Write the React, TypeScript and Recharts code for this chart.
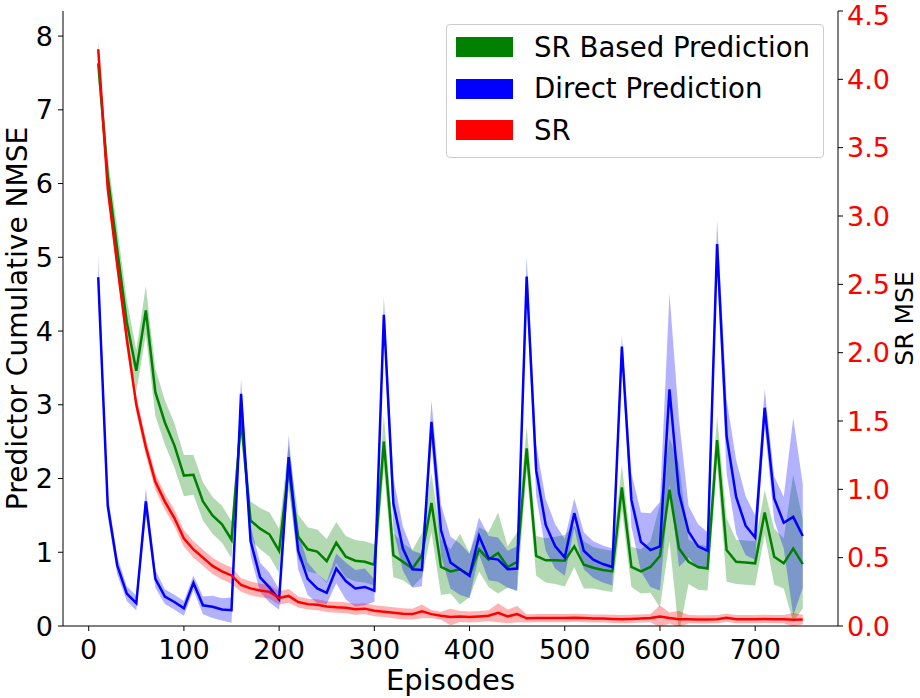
import {
  ComposedChart,
  Line,
  Area,
  XAxis,
  YAxis,
  Legend,
} from "recharts";

const episodes = [
  10, 20, 30, 40, 50, 60, 70, 80, 90, 100,
  110, 120, 130, 140, 150, 160, 170, 180, 190, 200,
  210, 220, 230, 240, 250, 260, 270, 280, 290, 300,
  310, 320, 330, 340, 350, 360, 370, 380, 390, 400,
  410, 420, 430, 440, 450, 460, 470, 480, 490, 500,
  510, 520, 530, 540, 550, 560, 570, 580, 590, 600,
  610, 620, 630, 640, 650, 660, 670, 680, 690, 700,
  710, 720, 730, 740, 750,
];

// SR based prediction (left axis)
const srBased = [
  7.63, 6.1, 5.1, 4.12, 3.46, 4.28, 3.17, 2.76, 2.45, 2.04,
  2.05, 1.69, 1.5, 1.38, 1.17, 2.8, 1.43, 1.32, 1.24, 1.02,
  2.15, 1.21, 1.04, 1.01, 0.88, 1.13, 0.94, 0.885, 0.87, 0.83,
  2.5, 0.96, 0.87, 0.78, 0.96, 1.67, 0.8, 0.74, 0.77, 0.69,
  1.04, 0.9, 0.99, 0.8, 0.87, 2.41, 0.95, 0.89, 0.89, 0.885,
  1.08, 0.83, 0.79, 0.76, 0.74, 1.88, 0.8, 0.74, 0.8, 0.95,
  1.85, 1.05, 0.87, 0.8, 0.78, 2.52, 1.03, 0.87, 0.86, 0.85,
  1.54, 0.94, 0.85, 1.05, 0.84,
];
const srBasedSpread = [
  0.2, 0.25, 0.3, 0.3, 0.28, 0.33, 0.32, 0.3, 0.3, 0.28,
  0.27, 0.26, 0.25, 0.25, 0.25, 0.2, 0.26, 0.28, 0.3, 0.3,
  0.3, 0.3, 0.3, 0.3, 0.3, 0.28, 0.28, 0.28, 0.28, 0.28,
  0.36, 0.3, 0.25, 0.25, 0.3, 0.4, 0.38, 0.3, 0.48, 0.3,
  0.3, 0.37, 0.55, 0.28, 0.4, 0.3, 0.27, 0.3, 0.32, 0.35,
  0.28, 0.32, 0.28, 0.28, 0.28, 0.3, 0.27, 0.3, 0.35, 0.7,
  0.7, 1.15, 0.3, 0.31, 0.3, 0.32, 0.43, 0.3, 0.3, 0.3,
  0.3, 0.38, 0.34, 1.0, 0.6,
];

// Direct prediction (left axis)
const direct = [
  4.73, 1.63, 0.82, 0.44, 0.31, 1.69, 0.64, 0.4, 0.325, 0.24,
  0.585, 0.28, 0.26, 0.225, 0.215, 3.15, 1.155, 0.66, 0.52, 0.36,
  2.29, 1.02, 0.64, 0.51, 0.45, 0.78, 0.61, 0.51, 0.53, 0.48,
  4.22, 1.66, 1.05, 0.77, 0.76, 2.77, 1.3, 0.86, 0.77, 0.68,
  1.22, 0.92, 0.9, 0.77, 0.78, 4.74, 2.11, 1.37, 1.08, 0.93,
  1.53, 1.02, 0.9, 0.84, 0.8, 3.79, 1.71, 1.14, 1.03, 1.08,
  3.21, 1.8, 1.28, 1.08, 1.02, 5.18, 2.57, 1.75, 1.36, 1.2,
  2.96, 1.73, 1.4, 1.48, 1.22,
];
const directSpread = [
  0.3, 0.15, 0.12, 0.1, 0.1, 0.18, 0.12, 0.1, 0.1, 0.1,
  0.1, 0.12, 0.15, 0.15, 0.17, 0.2, 0.2, 0.2, 0.2, 0.14,
  0.3, 0.25, 0.22, 0.2, 0.15, 0.2, 0.25, 0.25, 0.25, 0.15,
  0.25, 0.35, 0.3, 0.25, 0.22, 0.29, 0.35, 0.35, 0.35, 0.3,
  0.25, 0.3, 0.3, 0.25, 0.3, 0.27, 0.35, 0.35, 0.3, 0.25,
  0.2, 0.25, 0.25, 0.25, 0.25, 0.15, 0.36, 0.4, 0.5, 0.6,
  1.3, 1.0, 0.35, 0.3, 0.25, 0.33, 0.5, 0.5, 0.4, 0.3,
  0.25, 0.3, 0.35, 1.34, 0.7,
];

// SR MSE (right axis)
const srMse = [
  4.22, 3.2, 2.64, 2.1, 1.62, 1.31, 1.055, 0.91, 0.79, 0.64,
  0.56, 0.5, 0.44, 0.4, 0.37, 0.3, 0.275, 0.26, 0.25, 0.205,
  0.22, 0.175, 0.16, 0.155, 0.142, 0.137, 0.134, 0.122, 0.127, 0.112,
  0.105, 0.097, 0.09, 0.087, 0.107, 0.087, 0.075, 0.066, 0.07, 0.066,
  0.07, 0.075, 0.097, 0.07, 0.087, 0.056, 0.058, 0.058, 0.058, 0.058,
  0.06, 0.058, 0.055, 0.055, 0.052, 0.05, 0.052, 0.055, 0.058, 0.07,
  0.058, 0.05, 0.05, 0.048, 0.048, 0.05, 0.06, 0.05, 0.05, 0.05,
  0.052, 0.05, 0.05, 0.045, 0.048,
];
const srMseSpread = [
  0.07, 0.06, 0.06, 0.06, 0.06, 0.06, 0.06, 0.06, 0.06, 0.06,
  0.06, 0.06, 0.06, 0.06, 0.06, 0.05, 0.05, 0.05, 0.05, 0.05,
  0.05, 0.04, 0.04, 0.04, 0.04, 0.04, 0.04, 0.04, 0.04, 0.04,
  0.04, 0.04, 0.04, 0.04, 0.05, 0.03, 0.03, 0.06, 0.04, 0.04,
  0.04, 0.04, 0.07, 0.05, 0.06, 0.03, 0.03, 0.03, 0.03, 0.03,
  0.03, 0.03, 0.03, 0.03, 0.03, 0.03, 0.03, 0.03, 0.03, 0.08,
  0.04, 0.06, 0.03, 0.03, 0.03, 0.03, 0.03, 0.03, 0.03, 0.03,
  0.03, 0.03, 0.03, 0.05, 0.035,
];

const xTicks = [0, 100, 200, 300, 400, 500, 600, 700];
const leftTicks = [0, 1, 2, 3, 4, 5, 6, 7, 8];
const rightTicks = [0, 0.5, 1, 1.5, 2, 2.5, 3, 3.5, 4, 4.5];

const legendItems = [
  { name: "SR Based Prediction", color: "#008000" },
  { name: "Direct Prediction", color: "#0000ff" },
  { name: "SR", color: "#ff0000" },
];

const data = episodes.map((ep, i) => ({
  ep,
  g: srBased[i],
  gBand: [srBased[i] - srBasedSpread[i], srBased[i] + srBasedSpread[i]],
  b: direct[i],
  bBand: [direct[i] - directSpread[i], direct[i] + directSpread[i]],
  r: srMse[i],
  rBand: [srMse[i] - srMseSpread[i], srMse[i] + srMseSpread[i]],
}));

const font = "'DejaVu Sans', sans-serif";

function LegendBox() {
  return (
    <div
      style={{
        position: "relative",
        width: 376,
        height: 132,
        border: "1px solid #cccccc",
        borderRadius: 4,
        background: "rgba(255,255,255,0.8)",
        fontFamily: font,
        fontSize: 27.6,
        color: "#000",
      }}
    >
      {legendItems.map((item, i) => (
        <div
          key={item.name}
          style={{
            position: "absolute",
            left: 9,
            top: 1 + i * 41.7,
            height: 42,
            display: "flex",
            alignItems: "center",
            whiteSpace: "nowrap",
          }}
        >
          <span
            style={{
              display: "inline-block",
              width: 57,
              height: 20,
              background: item.color,
              marginRight: 21,
            }}
          />
          <span>{item.name}</span>
        </div>
      ))}
    </div>
  );
}

export default function App() {
  return (
    <div style={{ position: "absolute", left: 0, top: 0 }}>
      <ComposedChart
        width={920}
        height={698}
        data={data}
        margin={{ top: 11, right: 0, bottom: 0, left: 0 }}
        style={{ fontFamily: font }}
      >
        <XAxis
          dataKey="ep"
          type="number"
          domain={[-27, 787]}
          ticks={xTicks}
          allowDataOverflow
          height={72}
          tickSize={5}
          tickMargin={9}
          stroke="#000"
          tick={{ fill: "#000", fontSize: 27 }}
          label={({ viewBox }: any) => (
            <text
              x={viewBox.x + viewBox.width / 2}
              y={690}
              textAnchor="middle"
              fontSize={29}
              fill="#000"
            >
              Episodes
            </text>
          )}
        />
        <XAxis
          xAxisId="top"
          dataKey="ep"
          type="number"
          orientation="top"
          domain={[-27, 787]}
          height={0}
          tick={false}
          tickLine={false}
          stroke="#000"
        />
        <YAxis
          yAxisId="left"
          domain={[0, 8.34]}
          ticks={leftTicks}
          allowDataOverflow
          width={63}
          tickSize={5}
          tickMargin={5}
          stroke="#000"
          tick={{ fill: "#000", fontSize: 27 }}
          label={({ viewBox }: any) => (
            <text
              x={27}
              y={viewBox.y + viewBox.height / 2}
              transform={`rotate(-90 27 ${viewBox.y + viewBox.height / 2})`}
              textAnchor="middle"
              fontSize={28}
              fill="#000"
            >
              Predictor Cumulative NMSE
            </text>
          )}
        />
        <YAxis
          yAxisId="right"
          orientation="right"
          domain={[0, 4.5]}
          ticks={rightTicks}
          allowDataOverflow
          width={82}
          tickSize={5}
          tickMargin={4}
          stroke="#000"
          tickFormatter={(v: number) => v.toFixed(1)}
          tick={{ fill: "#ff0000", fontSize: 27 }}
          label={({ viewBox }: any) => (
            <text
              x={913}
              y={viewBox.y + viewBox.height / 2}
              transform={`rotate(-90 913 ${viewBox.y + viewBox.height / 2})`}
              textAnchor="middle"
              fontSize={25}
              fill="#000"
            >
              SR MSE
            </text>
          )}
        />
        <Legend
          layout="vertical"
          align="center"
          verticalAlign="middle"
          content={() => <LegendBox />}
          wrapperStyle={{ left: 446, top: 24, width: 378, height: 134 }}
        />
        <Area
          yAxisId="left"
          dataKey="gBand"
          type="linear"
          stroke="none"
          fill="#008000"
          fillOpacity={0.3}
          dot={false}
          activeDot={false}
          isAnimationActive={false}
        />
        <Area
          yAxisId="left"
          dataKey="bBand"
          type="linear"
          stroke="none"
          fill="#0000ff"
          fillOpacity={0.3}
          dot={false}
          activeDot={false}
          isAnimationActive={false}
        />
        <Line
          yAxisId="left"
          dataKey="g"
          type="linear"
          stroke="#008000"
          strokeWidth={2.5}
          dot={false}
          activeDot={false}
          isAnimationActive={false}
        />
        <Line
          yAxisId="left"
          dataKey="b"
          type="linear"
          stroke="#0000ff"
          strokeWidth={2.5}
          dot={false}
          activeDot={false}
          isAnimationActive={false}
        />
        <Area
          yAxisId="right"
          dataKey="rBand"
          type="linear"
          stroke="none"
          fill="#ff0000"
          fillOpacity={0.3}
          dot={false}
          activeDot={false}
          isAnimationActive={false}
        />
        <Line
          yAxisId="right"
          dataKey="r"
          type="linear"
          stroke="#ff0000"
          strokeWidth={2.5}
          dot={false}
          activeDot={false}
          isAnimationActive={false}
        />
      </ComposedChart>
    </div>
  );
}
